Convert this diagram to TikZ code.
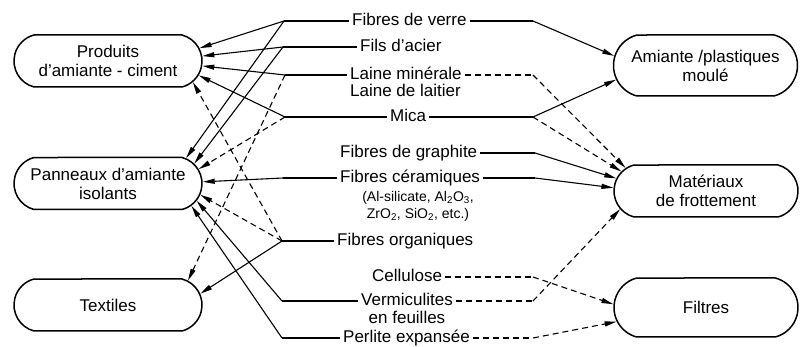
\documentclass[tikz,border=0pt]{standalone}
\usepackage{fontspec}
\setmainfont{Liberation Sans}
\usetikzlibrary{arrows.meta,positioning,shapes.misc}

\begin{document}
\begin{tikzpicture}[x=1pt, y=-1pt, >={Triangle[length=12pt,width=5pt]},
  product/.style={draw, line width=1.5pt, rounded rectangle, rounded rectangle arc length=150,
    minimum width=190pt, minimum height=52pt, inner sep=1pt, align=center, font=\fontsize{17}{19}\selectfont},
  fibre/.style={anchor=west, inner sep=3pt, text height=12pt, text depth=3.5pt, font=\fontsize{17}{19}\selectfont},
  note/.style={align=center, inner sep=1pt, font=\fontsize{14}{17}\selectfont},
  link/.style={line width=1.1pt},
  dlink/.style={line width=1.1pt, dash pattern=on 6pt off 4pt}]
  \useasboundingbox (0,0) rectangle (801,347);

  \node[product] (prod) at (108,61) {Produits\\d'amiante - ciment};
  \node[product] (pann) at (108,183.5) {Panneaux d'amiante\\isolants};
  \node[product] (textil) at (108,305) {Textiles};
  \node[product, minimum width=186pt, minimum height=61pt] (plast) at (705.5,65.5) {Amiante /plastiques\\moulé};
  \node[product, minimum width=186pt] (frott) at (706,191) {Matériaux\\de frottement};
  \node[product, minimum width=186pt, minimum height=59pt] (filt) at (706,307.5) {Filtres};

  \node[fibre] (verre) at (349,21) {Fibres de verre};
  \node[fibre] (fils) at (357,47) {Fils d'acier};
  \node[fibre] (laine) at (347,75) {Laine minérale};
  \node[fibre] (laitier) at (347,92) {Laine de laitier};
  \node[fibre] (mica) at (387,117) {Mica};
  \node[fibre] (graph) at (337,153) {Fibres de graphite};
  \node[fibre] (ceram) at (337,178) {Fibres céramiques};
  \node[note] (ceramsub) at (418,206.5) {(Al-silicate, Al\textsubscript{2}O\textsubscript{3},\\ZrO\textsubscript{2}, SiO\textsubscript{2}, etc.)};
  \node[fibre] (organ) at (334,241) {Fibres organiques};
  \node[fibre] (cellul) at (369,277) {Cellulose};
  \node[fibre, anchor=center] (vermic) at (407,301) {Vermiculites};
  \node[fibre, anchor=center] (feuilles) at (407,319) {en feuilles};
  \node[fibre] (perlite) at (340,338) {Perlite expansée};

  \coordinate (verreL) at (284,21);
  \coordinate (verreR) at (533,21);
  \coordinate (filsL) at (283,47);
  \coordinate (laineL) at (285,75);
  \coordinate (laineR) at (533,75);
  \coordinate (micaL) at (285,117);
  \coordinate (micaR) at (533,117);
  \coordinate (graphR) at (535,153);
  \coordinate (ceramL) at (283,178);
  \coordinate (ceramR) at (535,178);
  \coordinate (organL) at (282,241);
  \coordinate (cellulR) at (533,277);
  \coordinate (vermicL) at (282,301);
  \coordinate (vermicR) at (533,301);
  \coordinate (perliteL) at (282,338);
  \coordinate (perliteR) at (533,338);

  \draw[link] (verre.west) -- (verreL) edge[->] (prod.8) edge[->] (pann.18);
  \draw[link] (verre.east) -- (verreR) edge[->] (plast.174);
  \draw[link] (fils.west) -- (filsL) edge[->] (prod.3.5) edge[->] (pann.13.4);
  \draw[link] (laine.west) -- (laineL) edge[->] (prod.-3);
  \draw[dlink, ->] (laineL) -- (textil.17.6);
  \draw[dlink] (laine.east) -- (laineR) edge[->] (frott.164.4);
  \draw[link] (mica.west) -- (micaL) edge[->] (prod.-9.6);
  \draw[dlink, ->] (micaL) -- (pann.9.9);
  \draw[link] (mica.east) -- (micaR) edge[->] (plast.189);
  \draw[dlink, ->] (micaR) -- (frott.167.6);
  \draw[link] (graph.east) -- (graphR) edge[->] (frott.172.6);
  \draw[link] (ceram.west) -- (ceramL) edge[->] (pann.1.5);
  \draw[link] (ceram.east) -- (ceramR) edge[->] (frott.178);
  \draw[link] (organ.west) -- (organL) edge[->] (textil.7.5);
  \draw[dlink] (organL) edge[->] (prod.-14.3) edge[->] (pann.-7.5);
  \draw[dlink] (cellul.east) -- (cellulR) edge[->] (filt.178.4);
  \draw[link] (vermic.west) -- (vermicL) edge[->] (pann.-11.8);
  \draw[dlink] (vermic.east) -- (vermicR) edge[->] (frott.192);
  \draw[link] (perlite.west) -- (perliteL) edge[->] (pann.-15.3);
  \draw[dlink] (perlite.east) -- (perliteR) edge[->] (filt.189);
\end{tikzpicture}
\end{document}
